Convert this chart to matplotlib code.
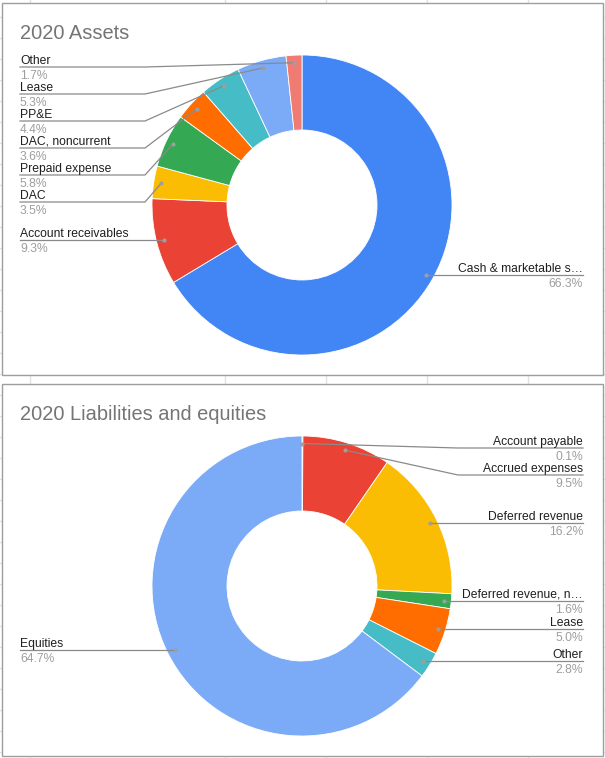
import matplotlib
matplotlib.use("Agg")
import matplotlib.pyplot as plt
from matplotlib.patches import Rectangle
import numpy as np

plt.rcParams['font.family'] = ['Liberation Sans', 'DejaVu Sans']

W, H = 605, 758

assets_title = "2020 Assets"
assets_labels = ["Cash & marketable s…", "Account receivables", "DAC", "Prepaid expense",
                 "DAC, noncurrent", "PP&E", "Lease", "Other"]
assets_values = [66.3, 9.3, 3.5, 5.8, 3.6, 4.4, 5.3, 1.7]

liab_title = "2020 Liabilities and equities"
liab_labels = ["Account payable", "Accrued expenses", "Deferred revenue",
               "Deferred revenue, n…", "Lease", "Other", "Equities"]
liab_values = [0.1, 9.5, 16.2, 1.6, 5.0, 2.8, 64.7]

palette = ["#4285F4", "#EA4335", "#FBBC04", "#34A853",
           "#FF6D01", "#46BDC6", "#7BAAF7", "#F07B72"]


def iy(y):
    # image pixel row -> data y (axes go bottom-up)
    return H - y


def donut(ax, top, title, labels, values):
    cx, cy, r = 302, top + 202, 150
    ax.add_patch(Rectangle((2, iy(top + 372)), 601, 372, facecolor='white',
                           edgecolor='#9e9e9e', lw=1, zorder=1))
    ax.text(20, iy(top + 36), title, fontsize=14.4, color='#757575',
            va='baseline', zorder=5)
    ax.pie(values, colors=palette[:len(values)], radius=r, center=(cx, iy(cy)),
           startangle=90, counterclock=False,
           wedgeprops=dict(width=r / 2, edgecolor='white', linewidth=0.6, zorder=2))

    vals = np.array(values)
    cum = np.concatenate([[0], np.cumsum(vals)[:-1]])
    mids = 360 * (cum + vals / 2) / vals.sum()      # clockwise from 12 o'clock
    rad = np.radians(mids)
    dx = cx + 0.95 * r * np.sin(rad)
    dy = cy - 0.95 * r * np.cos(rad)

    for left in (True, False):
        idx = [i for i in range(len(vals)) if (mids[i] >= 180) == left]
        idx.sort(key=lambda i: dy[i])
        prev = top + 64 - 27
        for i in idx:
            ly = max(dy[i], prev + 27)
            prev = ly
            if left:
                xs = [20, 145, dx[i]]
                tx, ha = 20, 'left'
            else:
                xs = [583, 458, dx[i]]
                tx, ha = 583, 'right'
            ys = [iy(ly), iy(ly), iy(dy[i])]
            ax.plot(xs, ys, color='#8a8a8a', lw=0.9, zorder=3)
            ax.plot(dx[i], iy(dy[i]), 'o', color='#9e9e9e', ms=3, mew=0, zorder=4)
            ax.text(tx, iy(ly - 3), labels[i], fontsize=8.7, color='#1f1f1f',
                    ha=ha, va='baseline', zorder=5)
            ax.text(tx, iy(ly + 12), f"{values[i]:.1f}%", fontsize=8.7,
                    color='#9e9e9e', ha=ha, va='baseline', zorder=5)


fig = plt.figure(figsize=(6.05, 7.58), dpi=100)
ax = fig.add_axes([0, 0, 1, 1])

# spreadsheet grid behind the charts
for gx in [30, 225, 326, 427, 528]:
    ax.plot([gx, gx], [0, H], color='#e2e2e2', lw=1, zorder=0)
for gy in range(17, H, 21):
    ax.plot([0, W], [iy(gy), iy(gy)], color='#e2e2e2', lw=1, zorder=0)

donut(ax, 3, assets_title, assets_labels, assets_values)
donut(ax, 384, liab_title, liab_labels, liab_values)

ax.set_xlim(0, W)
ax.set_ylim(0, H)
ax.set_aspect('auto')
ax.axis('off')

fig.savefig('out.png', dpi=100)
